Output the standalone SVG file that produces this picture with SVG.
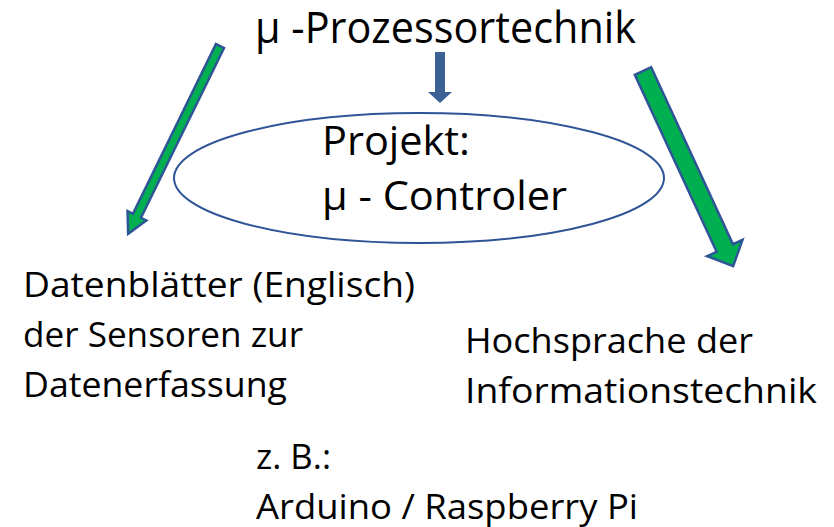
<svg xmlns="http://www.w3.org/2000/svg" width="834" height="527" viewBox="0 0 834 527">
  <style>
    .t { font-family: "Open Sans", "Noto Sans", "Liberation Sans", sans-serif; fill: #000; }
    .big { font-size: 43px; }
    .mid { font-size: 40px; }
    .sm { font-size: 34px; }
    .green { fill: #00B050; stroke: #2F5597; stroke-width: 2.5; stroke-linejoin: miter; }
  </style>
  <rect width="834" height="527" fill="#fff"/>

  <g id="connectors">
    <!-- left: from title down to data sheets -->
    <polygon class="green" transform="translate(220,46) rotate(116.07)"
             points="0,-4.5 189,-4.5 189,-10.5 209,0 189,10.5 189,4.5 0,4.5"/>
    <!-- right: from title down to high-level language -->
    <polygon class="green" transform="translate(643,71) rotate(65.2)"
             points="0,-9 195,-9 195,-19.5 215,0 195,19.5 195,9 0,9"/>
    <!-- middle: title to project -->
    <polygon fill="#3C6195" points="435,52 445,52 445,92 452,92 440,103 428,92 435,92"/>
  </g>

  <g id="title">
    <text class="t big" x="255" y="43" textLength="381" lengthAdjust="spacingAndGlyphs">µ -Prozessortechnik</text>
  </g>

  <g id="project">
    <ellipse cx="419" cy="178" rx="245" ry="65" fill="#fff" stroke="#2F5597" stroke-width="2"/>
    <text class="t mid" x="322" y="155" textLength="148" lengthAdjust="spacingAndGlyphs">Projekt:</text>
    <text class="t mid" x="322" y="210" textLength="245" lengthAdjust="spacingAndGlyphs">µ - Controler</text>
  </g>

  <g id="datasheets">
    <text class="t sm" x="23" y="297" textLength="392" lengthAdjust="spacingAndGlyphs">Datenblätter (Englisch)</text>
    <text class="t sm" x="23" y="347" textLength="280" lengthAdjust="spacingAndGlyphs">der Sensoren zur</text>
    <text class="t sm" x="23" y="397" textLength="264" lengthAdjust="spacingAndGlyphs">Datenerfassung</text>
  </g>

  <g id="language">
    <text class="t sm" x="465" y="353" textLength="288" lengthAdjust="spacingAndGlyphs">Hochsprache der</text>
    <text class="t sm" x="465" y="403" textLength="352" lengthAdjust="spacingAndGlyphs">Informationstechnik</text>
  </g>

  <g id="examples">
    <text class="t sm" x="256" y="469" textLength="75" lengthAdjust="spacingAndGlyphs">z. B.:</text>
    <text class="t sm" x="256" y="519" textLength="382" lengthAdjust="spacingAndGlyphs">Arduino / Raspberry Pi</text>
  </g>
</svg>
